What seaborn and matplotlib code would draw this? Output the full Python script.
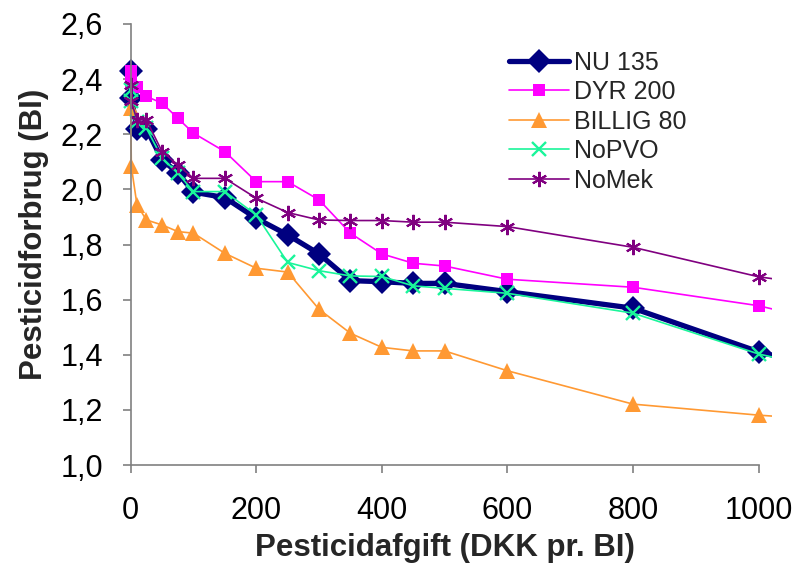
import matplotlib
matplotlib.use("Agg")
import matplotlib.pyplot as plt
from matplotlib.patches import Rectangle
from matplotlib.ticker import FuncFormatter
import seaborn as sns
import pandas as pd

# x values (DKK pr. BI); the last value lies beyond the visible axis and is clipped
afgift = [0, 1, 10, 25, 50, 75, 100, 150, 200, 250, 300, 350, 400, 450, 500, 600, 800, 1000, 1200]

nu135 = [2.43, 2.33, 2.22, 2.22, 2.107, 2.06, 1.99, 1.97, 1.895, 1.835, 1.766, 1.669, 1.665, 1.659, 1.659, 1.629, 1.569, 1.411, 1.30]
dyr200 = [2.43, 2.39, 2.37, 2.337, 2.313, 2.258, 2.204, 2.137, 2.028, 2.028, 1.962, 1.841, 1.766, 1.732, 1.722, 1.674, 1.645, 1.578, 1.47]
billig80 = [2.295, 2.083, 1.944, 1.889, 1.871, 1.847, 1.841, 1.768, 1.714, 1.70, 1.565, 1.478, 1.427, 1.414, 1.414, 1.342, 1.221, 1.181, 1.15]
nopvo = [2.36, 2.32, 2.246, 2.222, 2.113, 2.059, 1.992, 1.992, 1.907, 1.735, 1.705, 1.686, 1.684, 1.65, 1.641, 1.623, 1.551, 1.403, 1.30]
nomek = [2.38, 2.319, 2.252, 2.252, 2.137, 2.089, 2.04, 2.04, 1.968, 1.916, 1.889, 1.887, 1.887, 1.881, 1.881, 1.865, 1.79, 1.683, 1.62]

series_names = ["NU 135", "DYR 200", "BILLIG 80", "NoPVO", "NoMek"]
series_values = [nu135, dyr200, billig80, nopvo, nomek]

xticks = [0, 200, 400, 600, 800, 1000]
yticks = [1.0, 1.2, 1.4, 1.6, 1.8, 2.0, 2.2, 2.4, 2.6]

styles = {
    "NU 135": dict(color="#000080", marker="D", markersize=12, linewidth=3.8, mew=0),
    "DYR 200": dict(color="#FF00FF", marker="s", markersize=8.5, linewidth=1.2, mew=0),
    "BILLIG 80": dict(color="#FF9933", marker="^", markersize=11.5, linewidth=1.2, mew=0),
    "NoPVO": dict(color="#1AF59A", marker="x", markersize=10, linewidth=1.2, mew=1.7),
    "NoMek": dict(color="#800080", marker=(6, 2, 0), markersize=11, linewidth=1.2, mew=1.5),
}

sns.set_theme(style="white")
plt.rcParams["font.family"] = ["Liberation Sans", "DejaVu Sans"]

fig = plt.figure(figsize=(7.96, 5.63), dpi=100)
ax = fig.add_axes([0.1642, 0.174, 0.8053, 0.7834])

for name, vals in zip(series_names, series_values):
    df = pd.DataFrame({"x": afgift, "y": vals})
    st = styles[name]
    sns.lineplot(data=df, x="x", y="y", ax=ax, estimator=None, sort=False,
                 color=st["color"], marker=st["marker"], markersize=st["markersize"],
                 linewidth=st["linewidth"], markeredgewidth=st["mew"],
                 markeredgecolor=st["color"], markerfacecolor=st["color"], label=name)

clip = Rectangle((-0.1, -0.1), 1.1, 1.2, transform=ax.transAxes)
for line in ax.get_lines():
    line.set_clip_path(clip)

xmax = 1021
ax.set_xlim(0, xmax)
ax.set_ylim(1.0, 2.6)
ax.set_xticks(xticks)
ax.set_yticks(yticks)
ax.yaxis.set_major_formatter(FuncFormatter(lambda v, p: f"{v:.1f}".replace(".", ",")))

for s in ["top", "right"]:
    ax.spines[s].set_visible(False)
for s in ["left", "bottom"]:
    ax.spines[s].set_color("#808080")
    ax.spines[s].set_linewidth(1.2)
ax.spines["bottom"].set_bounds(0, 1000)
ax.tick_params(axis="both", which="major", direction="out", length=6, width=1.2,
               color="#808080", labelsize=22, labelcolor="black")
ax.tick_params(axis="x", pad=16, bottom=True)
ax.tick_params(axis="y", pad=14, left=True)

ax.set_xlabel("Pesticidafgift (DKK pr. BI)", fontsize=22.5, fontweight="bold",
              labelpad=5, x=500 / xmax)
ax.set_ylabel("Pesticidforbrug (BI)", fontsize=22.5, fontweight="bold",
              labelpad=8, y=0.524)

leg = ax.legend(loc="upper left", bbox_to_anchor=(0.574, 0.962), frameon=False,
                fontsize=18, handlelength=2.4, handletextpad=0.2, labelspacing=0.22,
                borderaxespad=0)

fig.savefig("out.png", dpi=100)
